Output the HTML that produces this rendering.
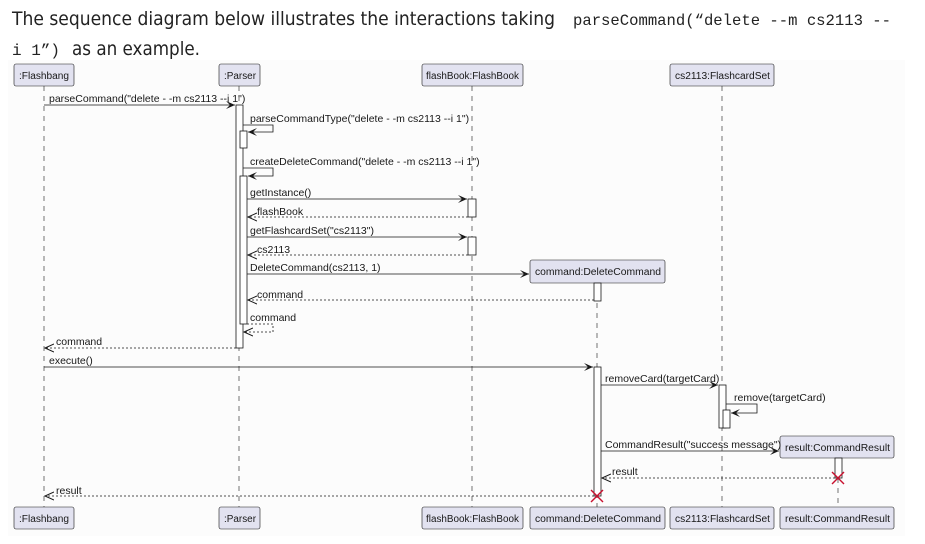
<!DOCTYPE html>
<html><head><meta charset="utf-8"><style>
html,body{margin:0;padding:0;background:#fff;width:925px;height:544px;overflow:hidden}
svg{display:block}
.t{font-family:"Liberation Sans",sans-serif;font-size:10.5px;fill:#181818}
.p{font-family:"Liberation Sans",sans-serif;font-size:10px;fill:#181818}
.h{font-family:"DejaVu Sans","Liberation Sans",sans-serif;font-size:19px;fill:#222}
.m{font-family:"Liberation Mono",monospace;font-size:16px;fill:#222}
</style></head><body>
<svg width="925" height="544" viewBox="0 0 925 544" xmlns="http://www.w3.org/2000/svg">
<defs>
<marker id="a" markerWidth="10" markerHeight="8" refX="9" refY="4" orient="auto" markerUnits="userSpaceOnUse"><path d="M0,0 L9,4 L0,8 L4,4 Z" fill="#181818"/></marker>
<marker id="o" markerWidth="10" markerHeight="10" refX="9" refY="5" orient="auto" markerUnits="userSpaceOnUse"><path d="M0,1 L9,5 L0,9" fill="none" stroke="#181818" stroke-width="1"/></marker>
</defs>
<text class="h" x="12" y="25" textLength="543" lengthAdjust="spacingAndGlyphs">The sequence diagram below illustrates the interactions taking</text>
<text class="m" x="573" y="25" textLength="318" lengthAdjust="spacingAndGlyphs">parseCommand(“delete --m cs2113 --</text>
<text class="m" x="12" y="55" textLength="48" lengthAdjust="spacingAndGlyphs">i 1”)</text>
<text class="h" x="72" y="55" textLength="128" lengthAdjust="spacingAndGlyphs">as an example.</text>
<rect x="8" y="60" width="897" height="476" fill="#fcfcfc"/>
<g stroke="#181818" stroke-width="0.6" stroke-dasharray="5,5" fill="none">
<line x1="44" y1="86" x2="44" y2="507"/>
<line x1="239" y1="86" x2="239" y2="507"/>
<line x1="472" y1="86" x2="472" y2="507"/>
<line x1="722" y1="86" x2="722" y2="507"/>
<line x1="597" y1="283" x2="597" y2="507"/>
<line x1="838" y1="458" x2="838" y2="507"/>
</g>
<g fill="#e2e2f0" stroke="#181818" stroke-width="0.6">
<rect x="14" y="64" width="60" height="22" rx="2"/>
<rect x="219" y="64" width="41" height="22" rx="2"/>
<rect x="422" y="64" width="101" height="22" rx="2"/>
<rect x="670" y="64" width="104" height="22" rx="2"/>
<rect x="530" y="260" width="135" height="23" rx="2"/>
<rect x="780" y="436" width="114" height="22" rx="2"/>
<rect x="14" y="507" width="60" height="22" rx="2"/>
<rect x="219" y="507" width="41" height="22" rx="2"/>
<rect x="422" y="507" width="101" height="22" rx="2"/>
<rect x="530" y="507" width="135" height="22" rx="2"/>
<rect x="670" y="507" width="104" height="22" rx="2"/>
<rect x="780" y="507" width="114" height="22" rx="2"/>
</g>
<g class="p">
<text x="19" y="79" textLength="50" lengthAdjust="spacingAndGlyphs">:Flashbang</text>
<text x="224" y="79" textLength="32" lengthAdjust="spacingAndGlyphs">:Parser</text>
<text x="426" y="79" textLength="93" lengthAdjust="spacingAndGlyphs">flashBook:FlashBook</text>
<text x="675" y="79" textLength="95" lengthAdjust="spacingAndGlyphs">cs2113:FlashcardSet</text>
<text x="535" y="275" textLength="126" lengthAdjust="spacingAndGlyphs">command:DeleteCommand</text>
<text x="785" y="451" textLength="105" lengthAdjust="spacingAndGlyphs">result:CommandResult</text>
<text x="19" y="522" textLength="50" lengthAdjust="spacingAndGlyphs">:Flashbang</text>
<text x="224" y="522" textLength="32" lengthAdjust="spacingAndGlyphs">:Parser</text>
<text x="426" y="522" textLength="93" lengthAdjust="spacingAndGlyphs">flashBook:FlashBook</text>
<text x="535" y="522" textLength="126" lengthAdjust="spacingAndGlyphs">command:DeleteCommand</text>
<text x="675" y="522" textLength="95" lengthAdjust="spacingAndGlyphs">cs2113:FlashcardSet</text>
<text x="785" y="522" textLength="105" lengthAdjust="spacingAndGlyphs">result:CommandResult</text>
</g>
<g fill="#fff" stroke="#181818" stroke-width="0.8">
<rect x="236" y="105" width="7" height="243"/>
<rect x="240" y="131" width="7" height="17"/>
<rect x="240" y="176" width="7" height="148"/>
<rect x="468" y="199" width="8" height="18"/>
<rect x="468" y="237" width="8" height="18"/>
<rect x="594" y="283" width="7" height="18"/>
<rect x="594" y="367" width="7" height="129"/>
<rect x="719" y="385" width="7" height="43"/>
<rect x="723" y="410" width="7" height="18"/>
<rect x="835" y="458" width="7" height="20"/>
</g>
<g stroke="#181818" stroke-width="0.8" fill="none">
<line x1="44" y1="105" x2="235" y2="105" marker-end="url(#a)"/>
<polyline points="243,125 273,125 273,132 248,132" marker-end="url(#a)"/>
<polyline points="243,168 273,168 273,176 248,176" marker-end="url(#a)"/>
<line x1="247" y1="199" x2="467" y2="199" marker-end="url(#a)"/>
<line x1="247" y1="237" x2="467" y2="237" marker-end="url(#a)"/>
<line x1="247" y1="274" x2="529" y2="274" marker-end="url(#a)"/>
<line x1="44" y1="367" x2="593" y2="367" marker-end="url(#a)"/>
<line x1="601" y1="385" x2="718" y2="385" marker-end="url(#a)"/>
<polyline points="726,404 757,404 757,413 731,413" marker-end="url(#a)"/>
<line x1="601" y1="451" x2="779" y2="451" marker-end="url(#a)"/>
</g>
<g stroke="#181818" stroke-width="0.8" fill="none" stroke-dasharray="2,2">
<line x1="468" y1="217" x2="248" y2="217" marker-end="url(#o)"/>
<line x1="468" y1="255" x2="248" y2="255" marker-end="url(#o)"/>
<line x1="594" y1="300" x2="248" y2="300" marker-end="url(#o)"/>
<polyline points="247,324 273,324 273,332 244,332" marker-end="url(#o)"/>
<line x1="236" y1="348" x2="45" y2="348" marker-end="url(#o)"/>
<line x1="835" y1="478" x2="602" y2="478" marker-end="url(#o)"/>
<line x1="594" y1="496" x2="45" y2="496" marker-end="url(#o)"/>
</g>
<g stroke="#c8102e" stroke-width="1.4">
<line x1="832" y1="472" x2="844" y2="484"/><line x1="844" y1="472" x2="832" y2="484"/>
<line x1="591" y1="490" x2="603" y2="502"/><line x1="603" y1="490" x2="591" y2="502"/>
</g>
<g class="t">
<text x="49" y="102">parseCommand("delete - -m cs2113 --i 1")</text>
<text x="250" y="122">parseCommandType("delete - -m cs2113 --i 1")</text>
<text x="250" y="165">createDeleteCommand("delete - -m cs2113 --i 1")</text>
<text x="250" y="196">getInstance()</text>
<text x="257" y="215">flashBook</text>
<text x="250" y="234">getFlashcardSet("cs2113")</text>
<text x="257" y="253">cs2113</text>
<text x="250" y="271">DeleteCommand(cs2113, 1)</text>
<text x="257" y="298">command</text>
<text x="250" y="321">command</text>
<text x="56" y="345">command</text>
<text x="49" y="364">execute()</text>
<text x="605" y="382">removeCard(targetCard)</text>
<text x="734" y="401">remove(targetCard)</text>
<text x="605" y="448">CommandResult("success message")</text>
<text x="612" y="475">result</text>
<text x="56" y="494">result</text>
</g>
</svg>
</body></html>
